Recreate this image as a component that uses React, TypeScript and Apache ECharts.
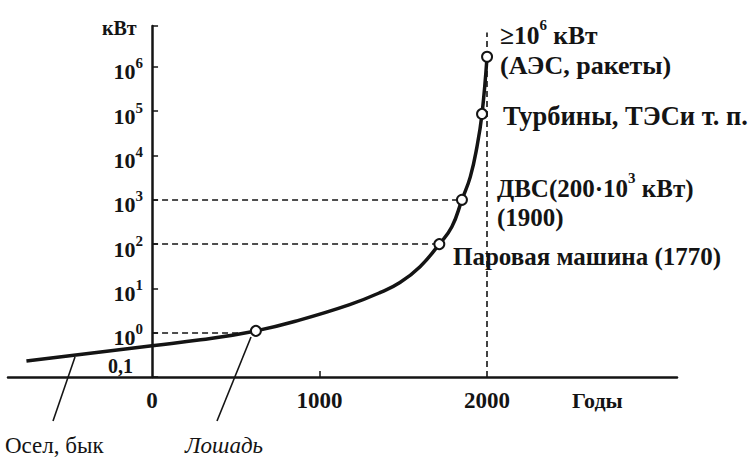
import React, { useEffect, useRef } from 'react';
import * as echarts from 'echarts';

// Curve of power (kW) against years
const curveYears = [-750, 0, 290, 620, 885, 1180, 1360, 1480, 1600, 1715, 1790, 1850, 1900, 1940, 1970, 2000];
const curvePower = [0.23, 0.51, 0.69, 1.1, 1.95, 4.3, 8.0, 13.6, 31, 100, 246, 1000, 3300, 15900, 87000, 1.7e6];

// Marked points (hollow circles)
const keyYears = [620, 1715, 1850, 1970, 2000];
const keyPower = [1.1, 100, 1000, 87000, 1.7e6];

// Dashed guides
const guideLevels = [1, 100, 1000];
const guideEnds = [600, 1715, 1850];
const markerYear = 2000;
const markerTop = 6e6;

// Axes
const xTickLabels = [0, 1000, 2000];
const xTickMarks = [1000];
const xMin = -860;
const xMax = 3134;
const yMin = 0.1;
const yMax = 8.4e6;

const FONT = '"Liberation Serif", "DejaVu Serif", serif';
const INK = '#141414';
const GRID_LEFT = 8;
const GRID_RIGHT = 75;

export default function App() {
  const ref = useRef<HTMLDivElement>(null);
  useEffect(() => {
    document.body.style.margin = '0';
    if (!ref.current) return;
    const chart = echarts.init(ref.current, undefined, { renderer: 'svg' });

    const fmtY = (v: number) => {
      const e = Math.log10(v);
      const r = Math.round(e);
      if (Math.abs(e - r) > 1e-6) return '';
      if (r === -1) return '{z|0,1}';
      return '{b|10}{s|' + r + '}';
    };

    const txt = (x: number, y: number, text: string, size = 25, extra: any = {}) => ({
      type: 'text',
      x,
      y,
      silent: true,
      style: {
        text,
        fill: INK,
        fontFamily: FONT,
        fontSize: size,
        fontWeight: 'bold',
        align: 'left',
        verticalAlign: 'middle',
        rich: {
          a: { fontFamily: FONT, fontSize: size, fontWeight: 'bold', fill: INK, color: INK, lineHeight: 26, padding: [10, 0, 0, 0] },
          s: { fontFamily: FONT, fontSize: 15, fontWeight: 'bold', fill: INK, color: INK, lineHeight: 16, verticalAlign: 'top' },
        },
        ...extra,
      },
    });

    const leader = (x1: number, y1: number, x2: number, y2: number) => ({
      type: 'line',
      silent: true,
      shape: { x1, y1, x2, y2 },
      style: { stroke: INK, lineWidth: 1.6 },
    });

    const guides: any[] = guideLevels.map((lv, i) => [
      { coord: [0, lv] },
      { coord: [guideEnds[i], lv] },
    ]);
    guides.push([{ coord: [markerYear, yMin] }, { coord: [markerYear, markerTop] }]);

    // y axis sits at year 0: shift it from the grid's left edge to there
    const gridWidth = 752 - GRID_LEFT - GRID_RIGHT;
    const yAxisShift = ((0 - xMin) / (xMax - xMin)) * gridWidth;

    chart.setOption({
      animation: false,
      backgroundColor: '#ffffff',
      grid: { left: GRID_LEFT, right: GRID_RIGHT, top: 26, bottom: 80, containLabel: false, outerBoundsMode: 'none' },
      xAxis: {
        type: 'value',
        min: xMin,
        max: xMax,
        axisLine: { show: true, onZero: false, lineStyle: { color: INK, width: 2.5 } },
        axisTick: { show: true, inside: true, length: 6, customValues: xTickMarks, lineStyle: { color: INK, width: 1.5 } },
        splitLine: { show: false },
        axisLabel: {
          customValues: xTickLabels,
          formatter: (v: number) => (xTickLabels.indexOf(v) >= 0 ? String(v) : ''),
          margin: 12,
          color: INK,
          fontFamily: FONT,
          fontSize: 23,
          fontWeight: 'bold',
        },
      },
      yAxis: {
        type: 'log',
        logBase: 10,
        min: yMin,
        max: yMax,
        position: 'left',
        offset: -yAxisShift,
        axisLine: { show: true, onZero: false, lineStyle: { color: INK, width: 2.5 } },
        axisTick: { show: true, inside: true, length: 6, lineStyle: { color: INK, width: 1.5 } },
        splitLine: { show: false },
        axisLabel: {
          margin: 9,
          color: INK,
          formatter: fmtY,
          rich: {
            b: { fontFamily: FONT, fontSize: 22, fontWeight: 'bold', color: INK, lineHeight: 22, padding: [10, 0, 0, 0] },
            s: { fontFamily: FONT, fontSize: 15, fontWeight: 'bold', color: INK, lineHeight: 15, verticalAlign: 'top' },
            z: { fontFamily: FONT, fontSize: 20, fontWeight: 'bold', color: INK, padding: [0, 10, 22, 0] },
          },
        },
      },
      series: [
        {
          type: 'line',
          data: curveYears.map((x, i) => [x, curvePower[i]]),
          smooth: 0.45,
          symbol: 'none',
          lineStyle: { color: INK, width: 3.5 },
          z: 3,
          markLine: {
            silent: true,
            symbol: 'none',
            label: { show: false },
            lineStyle: { color: INK, width: 1.6, type: [6, 4] },
            data: guides,
          },
        },
        {
          type: 'scatter',
          data: keyYears.map((x, i) => [x, keyPower[i]]),
          symbol: 'circle',
          symbolSize: 10,
          itemStyle: { color: '#ffffff', borderColor: INK, borderWidth: 2, opacity: 1 },
          z: 5,
        },
      ],
      graphic: [
        txt(102, 28, 'кВт', 20),
        txt(572, 400, 'Годы', 22),
        txt(500, 30, '{a|≥10}{s|6}{a| кВт}', 25.5),
        txt(500, 65, '(АЭС, ракеты)', 26),
        txt(503, 116, 'Турбины, ТЭСи т. п.', 26.5),
        txt(497, 183, '{a|ДВС(200·10}{s|3}{a| кВт)}', 25),
        txt(497, 217, '(1900)', 25),
        txt(453, 256, 'Паровая машина (1770)', 25),
        txt(5, 445, 'Осел, бык', 23, { fontWeight: 'normal' }),
        txt(185, 445, 'Лошадь', 23, { fontWeight: 'normal', fontStyle: 'italic' }),
        leader(75, 357, 53, 421),
        leader(251, 337, 217, 421),
      ],
    });
    return () => chart.dispose();
  }, []);
  return <div ref={ref} style={{ width: 752, height: 457 }} />;
}
